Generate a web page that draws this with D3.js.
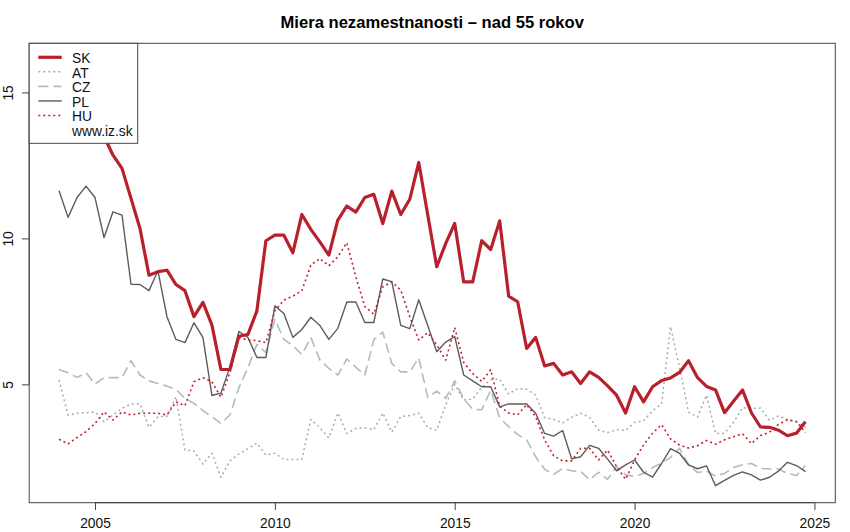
<!DOCTYPE html>
<html>
<head>
<meta charset="utf-8">
<script src="https://cdn.jsdelivr.net/npm/d3@7"></script>
<style>
  html, body { margin: 0; padding: 0; background: #fff; }
  svg { display: block; font-family: "Liberation Sans", Arial, Helvetica, sans-serif; }
</style>
</head>
<body>
<svg id="chart" width="850" height="532"></svg>
<script>
// ---- data (quarterly, 2004 Q1 .. 2024 Q4) ----
const startYear = 2004;
const SK = [15.2,15.9,16.1,15.3,14.6,13.5,12.85,12.4,11.37,10.34,8.74,8.86,8.91,8.42,8.21,7.32,7.81,7.03,5.51,5.51,
  6.65,6.71,7.52,9.92,10.11,10.11,9.51,10.82,10.31,9.88,9.43,10.63,11.11,10.9,11.4,11.51,10.51,11.62,10.82,11.34,
  12.6,10.8,9.03,9.83,10.51,8.51,8.51,9.92,9.62,10.6,8.02,7.83,6.23,6.61,5.63,5.72,5.32,5.43,5.03,5.43,
  5.24,4.95,4.63,4.02,4.92,4.4,4.92,5.13,5.22,5.41,5.81,5.23,4.93,4.81,4.03,4.42,4.81,4.02,3.54,3.53,
  3.43,3.24,3.33,3.72];
const AT = [5.15,3.95,4.01,4.03,4.06,3.72,3.95,4.18,4.33,4.33,3.53,3.89,3.91,4.58,2.75,2.72,2.27,2.64,1.82,2.38,
  2.62,2.8,2.99,2.58,2.64,2.43,2.43,2.43,3.8,3.52,3.17,4.02,3.32,3.49,3.51,3.45,4.02,3.36,3.9,3.93,
  4.01,3.52,3.43,4.3,5.0,4.46,4.5,4.9,5.16,5.18,4.67,4.86,4.83,4.63,3.86,3.8,3.68,3.87,4.01,3.87,
  3.43,3.35,3.45,3.42,3.7,3.75,4.1,4.33,6.98,5.57,4.05,3.88,4.63,3.32,3.33,3.69,4.2,4.17,4.19,3.77,
  3.92,3.8,3.7,3.53];
const CZ = [5.51,5.4,5.24,5.4,5.01,5.23,5.23,5.23,5.81,5.32,5.12,5.03,4.94,4.83,4.52,4.35,4.1,3.89,3.66,3.95,
  4.89,5.57,6.37,6.09,7.23,6.54,6.33,6.02,6.61,5.84,5.55,5.32,5.87,5.59,5.32,6.53,6.79,5.72,5.43,5.43,
  5.91,4.55,4.77,4.52,5.12,4.5,4.15,4.13,4.8,3.86,3.55,3.28,3.1,2.52,2.09,1.92,2.12,2.04,2.02,1.73,
  1.99,1.75,2.18,1.9,1.85,1.95,2.15,2.3,2.5,2.81,2.25,1.98,2.03,1.86,1.95,2.15,2.25,2.29,2.12,2.1,
  2.1,1.95,1.88,2.22];
const PL = [11.63,10.72,11.4,11.79,11.4,10.03,10.91,10.8,8.43,8.42,8.21,8.89,7.32,6.54,6.43,7.11,6.61,4.62,4.7,5.6,
  6.81,6.61,5.92,5.92,7.69,7.43,6.61,6.88,7.3,7.02,6.54,6.92,7.82,7.82,7.12,7.12,8.61,8.52,7.02,6.91,
  7.9,7.02,6.12,6.45,6.64,5.32,5.12,4.92,4.92,4.23,4.33,4.33,4.33,4.01,3.32,3.23,3.42,2.45,2.52,2.91,
  2.81,2.44,2.04,2.24,2.41,1.99,1.82,2.29,2.8,2.64,2.24,2.11,2.21,1.53,1.71,1.88,2.0,1.9,1.72,1.82,
  2.03,2.33,2.22,2.01];
const HU = [3.12,2.96,3.18,3.38,3.66,4.06,3.78,4.06,3.95,4.01,4.01,4.01,3.95,4.4,4.27,5.09,5.23,5.09,4.56,5.4,
  6.6,6.52,6.5,6.43,7.52,7.89,8.02,8.21,9.09,9.31,9.06,9.37,9.85,8.69,7.66,7.41,8.34,8.51,8.23,7.32,
  6.52,6.77,6.35,5.83,6.95,5.75,5.37,5.1,5.5,4.25,4.02,3.96,4.31,3.89,3.1,2.55,2.38,2.38,2.81,2.81,
  2.41,2.75,2.18,1.75,2.41,2.93,3.33,3.62,3.13,2.92,2.82,2.9,3.08,2.95,3.1,3.21,3.31,2.97,3.25,3.36,
  3.63,3.79,3.73,3.35];
const seriesNames = ["SK","AT","CZ","PL","HU"];
const xTicks = [2005, 2010, 2015, 2020, 2025];
const yTicks = [5, 10, 15];
const title = "Miera nezamestnanosti \u2013 nad 55 rokov";
const sourceLabel = "www.iz.sk";

// ---- styles ----
const styles = {
  SK: { color: "#b8202c", width: 3.2, dash: null },
  AT: { color: "#a9abb0", width: 1.5, dash: "2,3" },
  CZ: { color: "#b3bac3", width: 1.6, dash: "10,5" },
  PL: { color: "#5c5c5c", width: 1.4, dash: null },
  HU: { color: "#c4202c", width: 1.6, dash: "2,3" }
};
const dataMap = { SK, AT, CZ, PL, HU };

const svg = d3.select("#chart");
const plot = { left: 29.2, right: 835.3, top: 43.3, bottom: 502.7 };

const n = SK.length;
const times = d3.range(n).map(i => startYear + i / 4);
const tExt = d3.extent(times);
const tPad = (tExt[1] - tExt[0]) * 0.04;
const allVals = [].concat(SK, AT, CZ, PL, HU);
const vExt = d3.extent(allVals);
const vPad = (vExt[1] - vExt[0]) * 0.04;

const x = d3.scaleLinear().domain([tExt[0] - tPad, tExt[1] + tPad]).range([plot.left, plot.right]);
const y = d3.scaleLinear().domain([vExt[0] - vPad, vExt[1] + vPad]).range([plot.bottom, plot.top]);

// title
svg.append("text")
  .attr("x", (plot.left + plot.right) / 2)
  .attr("y", 27.5)
  .attr("text-anchor", "middle")
  .attr("font-weight", "bold")
  .attr("font-size", "16.6px")
  .attr("fill", "#000")
  .text(title);

// clip
svg.append("clipPath").attr("id", "clip")
  .append("rect")
  .attr("x", plot.left).attr("y", plot.top)
  .attr("width", plot.right - plot.left).attr("height", plot.bottom - plot.top);

const line = d3.line().x((d, i) => x(times[i])).y(d => y(d));

const g = svg.append("g").attr("clip-path", "url(#clip)");
["AT", "CZ", "PL", "HU", "SK"].forEach(name => {
  const s = styles[name];
  g.append("path")
    .datum(dataMap[name])
    .attr("d", line)
    .attr("fill", "none")
    .attr("stroke", s.color)
    .attr("stroke-width", s.width)
    .attr("stroke-linejoin", "round")
    .attr("stroke-dasharray", s.dash);
});

// x axis
const xAxis = d3.axisBottom(x).tickValues(xTicks).tickSize(7.3).tickPadding(4).tickFormat(d3.format("d"));
const gx = svg.append("g").attr("transform", `translate(0,${plot.bottom})`).call(xAxis);
gx.select(".domain").attr("d", `M${x(xTicks[0])},0H${x(xTicks[xTicks.length - 1])}`).attr("stroke", "#444");
gx.selectAll(".tick line").attr("stroke", "#444");
gx.selectAll(".tick text")
  .attr("font-family", "Liberation Sans, Arial, sans-serif")
  .attr("font-size", "13.8px").attr("fill", "#111")
  .attr("dy", null).attr("y", 25.6);

// y axis
const yAxis = d3.axisLeft(y).tickValues(yTicks).tickSize(7.3).tickFormat(d3.format("d"));
const gy = svg.append("g").attr("transform", `translate(${plot.left},0)`).call(yAxis);
gy.select(".domain").attr("d", `M0,${y(yTicks[0])}V${y(yTicks[yTicks.length - 1])}`).attr("stroke", "#444");
gy.selectAll(".tick line").attr("stroke", "#444");
gy.selectAll(".tick text")
  .attr("font-family", "Liberation Sans, Arial, sans-serif")
  .attr("font-size", "13.8px").attr("fill", "#111")
  .attr("text-anchor", "middle")
  .attr("x", null).attr("dy", null)
  .attr("transform", `translate(${12.7 - plot.left},0) rotate(-90)`)
  .attr("y", 0);

// box
svg.append("rect")
  .attr("x", plot.left).attr("y", plot.top)
  .attr("width", plot.right - plot.left).attr("height", plot.bottom - plot.top)
  .attr("fill", "none").attr("stroke", "#444").attr("stroke-width", 1);

// legend
const legend = svg.append("g");
legend.append("rect")
  .attr("x", plot.left).attr("y", plot.top)
  .attr("width", 137.7 - plot.left).attr("height", 143.3 - plot.top)
  .attr("fill", "#fff").attr("stroke", "#444").attr("stroke-width", 1);
const rowY0 = 57.3, rowStep = 14.55;
const legendItems = seriesNames.concat([sourceLabel]);
legendItems.forEach((name, i) => {
  const yy = rowY0 + i * rowStep;
  const s = styles[name];
  if (s) {
    legend.append("line")
      .attr("x1", 38.3).attr("x2", 61.7).attr("y1", yy).attr("y2", yy)
      .attr("stroke", s.color).attr("stroke-width", s.width)
      .attr("stroke-dasharray", s.dash);
  }
  legend.append("text")
    .attr("x", 72).attr("y", yy + 5.9)
    .attr("font-size", "13.8px").attr("fill", "#111")
    .text(name);
});
</script>
</body>
</html>
